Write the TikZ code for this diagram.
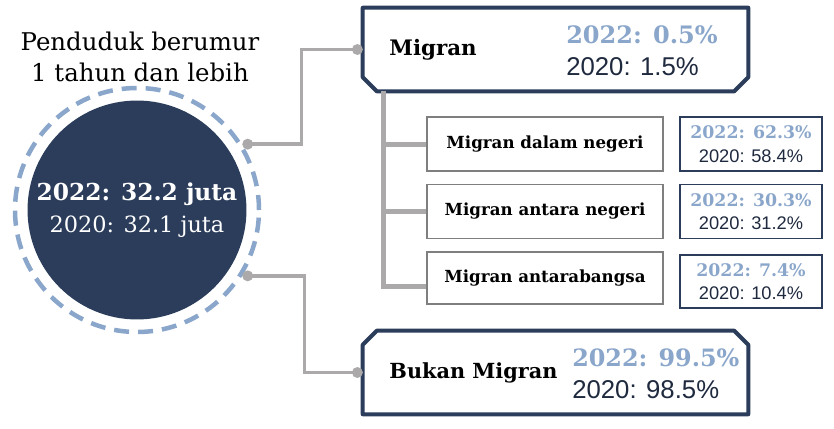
\documentclass[tikz,border=0pt]{standalone}
\usepackage{fontspec}
\setmainfont{DejaVu Serif}
\newfontfamily\numfont{Liberation Sans}
\usepackage{tikz}
\usetikzlibrary{arrows.meta, positioning}

\definecolor{navy}{HTML}{2B3D5B}
\definecolor{ringblue}{HTML}{8AA6CA}
\definecolor{linkgray}{HTML}{ABA9A9}
\definecolor{subgray}{HTML}{7F7F7F}
\definecolor{ink}{HTML}{1F2A3F}

\newlength\pxu
\setlength\pxu{0.75pt}

\newcommand\topval[2]{{\fontsize{#1}{24}\selectfont\bfseries\color{ringblue}#2}}
\newcommand\botval[2]{{\fontsize{#1}{24}\selectfont\numfont\color{ink}#2}}

\begin{document}
\begin{tikzpicture}[
  x=0.75pt, y=-0.75pt,
  ring/.style={circle, draw=ringblue, line width=4.5\pxu,
               dash pattern=on 15\pxu off 9\pxu, minimum size=244\pxu},
  core/.style={circle, fill=navy, minimum size=218\pxu, text=white,
               align=center, font=\fontsize{16.8}{24}\selectfont},
  mainbox/.style={minimum width=385\pxu, minimum height=83\pxu, inner sep=0pt},
  frame/.style={draw=navy, line width=4\pxu, fill=white, line join=round},
  mainval/.style={anchor=west, align=left, inner sep=0pt,
               font=\fontsize{18}{24}\selectfont},
  subbox/.style={draw=subgray, line width=1.8\pxu, minimum width=236\pxu,
               minimum height=54\pxu, font=\fontsize{12.5}{15}\selectfont\bfseries},
  valbox/.style={draw=navy, line width=1.5\pxu, minimum width=142\pxu,
               minimum height=54\pxu, align=center, inner sep=1pt,
               font=\fontsize{13}{17.5}\selectfont},
  link/.style={draw=linkgray, line width=3.5\pxu,
               {Circle[length=8pt]}-{Circle[length=8pt]}},
  tree/.style={draw=linkgray, line width=5\pxu},
]
  \useasboundingbox (0,0) rectangle (834,428);

  % population circle
  \node[font=\fontsize{18.3}{23}\selectfont, align=center] (title) at (140,57)
       {Penduduk berumur\\1 tahun dan lebih};
  \node[ring] (ring) at (137,210) {};
  \node[core] (pop) at (137,210)
       {{\bfseries\fontsize{17.5}{24}\selectfont 2022: 32.2 juta}\\2020: 32.1 juta};

  % main boxes
  \node[mainbox] (mig) at (555.5,49.5) {};
  \draw[frame] (mig.north west) -- (mig.north east)
    -- ([yshift=10.5pt]mig.south east) -- ([xshift=-10.5pt]mig.south east)
    -- ([xshift=10.5pt]mig.south west) -- ([yshift=10.5pt]mig.south west) -- cycle;
  \node[font=\fontsize{16}{18}\selectfont\bfseries, anchor=west] (miglab)
       at ([xshift=16.5pt]mig.west) {Migran};
  \node[mainval] (migval) at (566,51)
       {\topval{18}{2022: 0.5\%}\\\botval{19.3}{2020: 1.5\%}};

  \node[mainbox] (bukan) at (555.5,372.5) {};
  \draw[frame] (bukan.south west) -- (bukan.south east)
    -- ([yshift=-10.5pt]bukan.north east) -- ([xshift=-10.5pt]bukan.north east)
    -- ([xshift=10.5pt]bukan.north west) -- ([yshift=-10.5pt]bukan.north west) -- cycle;
  \node[font=\fontsize{15.6}{18}\selectfont\bfseries, anchor=west] (bukanlab)
       at ([xshift=16.5pt]bukan.west) {Bukan Migran};
  \node[mainval] (bukanval) at (572,374)
       {\topval{17.9}{2022: 99.5\%}\\\botval{19.3}{2020: 98.5\%}};

  % migrant breakdown
  \node[subbox] (sub1) at (545,144) {Migran dalam negeri};
  \node[subbox] (sub2) at (545,211.5) {Migran antara negeri};
  \node[subbox, minimum height=52\pxu] (sub3) at (545,278) {Migran antarabangsa};

  \node[valbox] (val1) at (751,144)
       {\topval{13}{2022: 62.3\%}\\\botval{13.7}{2020: 58.4\%}};
  \node[valbox] (val2) at (751,211.5)
       {\topval{13}{2022: 30.3\%}\\\botval{13.7}{2020: 31.2\%}};
  \node[valbox, minimum height=53\pxu] (val3) at (751,281.5)
       {\topval{13}{2022: 7.4\%}\\\botval{13.7}{2020: 10.4\%}};

  % connectors
  \draw[link] (ring.32) -- ++(59,0) |- (mig.west);
  \draw[link] (ring.-32) -- ++(62,0) |- (bukan.west);

  \coordinate (trunk) at ([xshift=15.75pt]mig.south west);
  \draw[tree] (trunk) |- ([yshift=-6.5pt]sub3.west);
  \foreach \s in {sub1, sub2}
    \draw[tree] (trunk |- \s.west) -- (\s.west);
\end{tikzpicture}
\end{document}
